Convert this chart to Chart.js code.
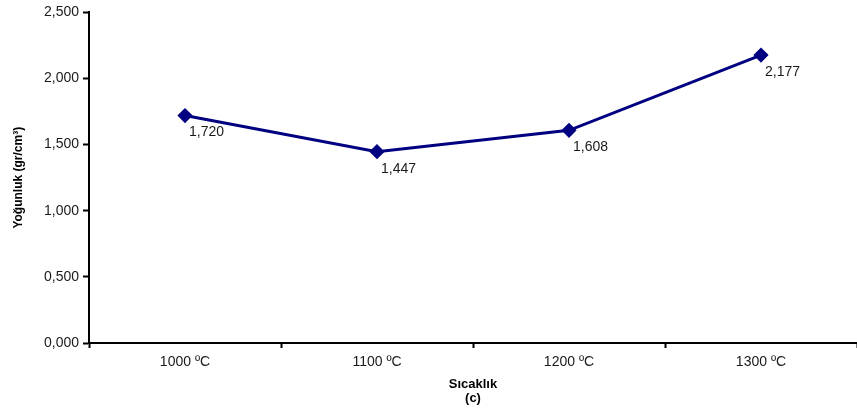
<!DOCTYPE html>
<html>
<head>
<meta charset="utf-8">
<script src="https://cdn.jsdelivr.net/npm/chart.js@4"></script>
<style>
  html, body { margin: 0; padding: 0; background: #fff; }
  #kutu { width: 857px; height: 415px; }
</style>
</head>
<body>
<div id="kutu"><canvas id="yogunlukGrafik"></canvas></div>
<script>
// Veriler
const sicakliklar = ['1000 ºC', '1100 ºC', '1200 ºC', '1300 ºC'];
const yogunluklar = [1.720, 1.447, 1.608, 2.177];
const yEksenDegerleri = [0, 0.5, 1, 1.5, 2, 2.5];

// Türkçe ondalık gösterimi (virgül)
function virgullu(deger) {
    return Number(deger).toFixed(3).replace('.', ',');
}

// Noktaların sağ altına değer yazan küçük eklenti
const degerEtiketleri = {
    id: 'degerEtiketleri',
    afterDatasetsDraw(chart) {
        const ctx = chart.ctx;
        const meta = chart.getDatasetMeta(0);
        ctx.save();
        ctx.font = '14px "Liberation Sans", Arial, sans-serif';
        ctx.fillStyle = '#1a1a1a';
        ctx.textAlign = 'left';
        ctx.textBaseline = 'middle';
        meta.data.forEach((nokta, i) => {
            ctx.fillText(virgullu(chart.data.datasets[0].data[i]), nokta.x + 4, nokta.y + 17);
        });
        ctx.restore();
    }
};

const ctx = document.getElementById('yogunlukGrafik').getContext('2d');
new Chart(ctx, {
    type: 'line',
    data: {
        labels: sicakliklar,
        datasets: [{
            data: yogunluklar,
            borderColor: '#000080',
            backgroundColor: '#000080',
            borderWidth: 3,
            pointStyle: 'rectRot',
            pointRadius: 5.5,
            pointHoverRadius: 5.5,
            tension: 0
        }]
    },
    options: {
        responsive: true,
        maintainAspectRatio: false,
        animation: false,
        layout: { autoPadding: false, padding: { top: 11, right: -4, left: 0, bottom: 0 } },
        plugins: {
            legend: { display: false },
            tooltip: { enabled: false }
        },
        scales: {
            x: {
                offset: true,
                grid: {
                    offset: true,
                    drawOnChartArea: false,
                    drawTicks: true,
                    tickLength: 5,
                    tickWidth: 2,
                    tickColor: '#000'
                },
                border: { display: true, color: '#000', width: 2 },
                ticks: {
                    color: '#1a1a1a',
                    padding: 6,
                    maxRotation: 0,
                    font: { family: '"Liberation Sans", Arial, sans-serif', size: 14 }
                },
                title: {
                    display: true,
                    text: ['Sıcaklık', '(c)'],
                    color: '#000',
                    padding: { top: 4, bottom: 9 },
                    font: { family: '"Liberation Sans", Arial, sans-serif', size: 13, weight: 'bold', lineHeight: 1.1 }
                },
                afterFit(scale) {
                    scale.height = 72;
                    scale.paddingLeft = 0;
                    scale.paddingRight = 0;
                }
            },
            y: {
                min: 0,
                max: 2.5,
                afterBuildTicks(scale) {
                    scale.ticks = yEksenDegerleri.map(v => ({ value: v }));
                },
                grid: {
                    drawOnChartArea: false,
                    drawTicks: true,
                    tickLength: 6,
                    tickWidth: 2,
                    tickColor: '#000'
                },
                border: { display: true, color: '#000', width: 2 },
                ticks: {
                    color: '#1a1a1a',
                    padding: 4,
                    font: { family: '"Liberation Sans", Arial, sans-serif', size: 14 },
                    callback: v => virgullu(v)
                },
                title: {
                    display: true,
                    text: 'Yoğunluk (gr/cm³)',
                    color: '#000',
                    padding: { top: 11, bottom: 0 },
                    font: { family: '"Liberation Sans", Arial, sans-serif', size: 12, weight: 'bold' }
                },
                afterFit(scale) { scale.width = 89; }
            }
        }
    },
    plugins: [degerEtiketleri]
});
</script>
</body>
</html>
